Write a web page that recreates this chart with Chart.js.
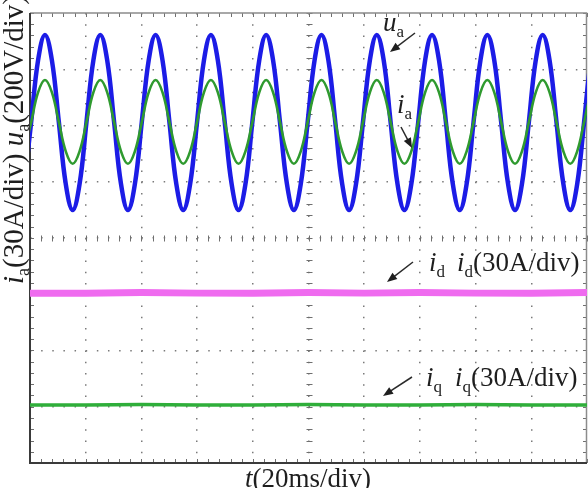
<!DOCTYPE html>
<html>
<head>
<meta charset="utf-8">
<script src="https://cdn.jsdelivr.net/npm/chart.js@4.4.1/dist/chart.umd.min.js"></script>
<style>
  html, body { margin: 0; padding: 0; background: #fff; }
  canvas { display: block; }
</style>
</head>
<body>
<canvas id="scope" width="588" height="488"></canvas>
<script>
// everything is in scope divisions: x = 20 ms/div (0..10), y = div from the centre line (-4..4)
const sampleDiv = [-0.103, 0.021, 0.145, 0.269, 0.393, 0.518, 0.642, 0.766, 0.890, 1.014,
  1.138, 1.262, 1.386, 1.510, 1.634, 1.758, 1.883, 2.007, 2.131, 2.255,
  2.379, 2.503, 2.627, 2.751, 2.875, 2.999, 3.123, 3.248, 3.372, 3.496,
  3.620, 3.744, 3.868, 3.992, 4.116, 4.240, 4.364, 4.488, 4.613, 4.737,
  4.861, 4.985, 5.109, 5.233, 5.357, 5.481, 5.605, 5.729, 5.853, 5.978,
  6.102, 6.226, 6.350, 6.474, 6.598, 6.722, 6.846, 6.970, 7.094, 7.218,
  7.343, 7.467, 7.591, 7.715, 7.839, 7.963, 8.087, 8.211, 8.335, 8.459,
  8.583, 8.708, 8.832, 8.956, 9.080, 9.204, 9.328, 9.452, 9.576, 9.700,
  9.824, 9.948, 10.073, 10.197];

// u_a (200V/div)
const uaDiv = [0.96, 2.06, 3.16, 3.61, 3.16, 2.06, 0.96, 0.50,
  0.96, 2.06, 3.16, 3.61, 3.16, 2.06, 0.96, 0.50,
  0.96, 2.06, 3.16, 3.61, 3.16, 2.06, 0.96, 0.50,
  0.96, 2.06, 3.16, 3.61, 3.16, 2.06, 0.96, 0.50,
  0.96, 2.06, 3.16, 3.61, 3.16, 2.06, 0.96, 0.50,
  0.96, 2.06, 3.16, 3.61, 3.16, 2.06, 0.96, 0.50,
  0.96, 2.06, 3.16, 3.61, 3.16, 2.06, 0.96, 0.50,
  0.96, 2.06, 3.16, 3.61, 3.16, 2.06, 0.96, 0.50,
  0.96, 2.06, 3.16, 3.61, 3.16, 2.06, 0.96, 0.50,
  0.96, 2.06, 3.16, 3.61, 3.16, 2.06, 0.96, 0.50,
  0.96, 2.06, 3.16, 3.61];

// i_a (30A/div)
const iaDiv = [1.54, 2.06, 2.59, 2.81, 2.59, 2.06, 1.54, 1.32,
  1.54, 2.06, 2.59, 2.81, 2.59, 2.06, 1.54, 1.32,
  1.54, 2.06, 2.59, 2.81, 2.59, 2.06, 1.54, 1.32,
  1.54, 2.06, 2.59, 2.81, 2.59, 2.06, 1.54, 1.32,
  1.54, 2.06, 2.59, 2.81, 2.59, 2.06, 1.54, 1.32,
  1.54, 2.06, 2.59, 2.81, 2.59, 2.06, 1.54, 1.32,
  1.54, 2.06, 2.59, 2.81, 2.59, 2.06, 1.54, 1.32,
  1.54, 2.06, 2.59, 2.81, 2.59, 2.06, 1.54, 1.32,
  1.54, 2.06, 2.59, 2.81, 2.59, 2.06, 1.54, 1.32,
  1.54, 2.06, 2.59, 2.81, 2.59, 2.06, 1.54, 1.32,
  1.54, 2.06, 2.59, 2.81];

// i_d, i_q (30A/div)
const dqTime = [0, 1, 2, 3, 4, 5, 6, 7, 8, 9, 10];
const idDiv = [-0.98, -0.98, -0.97, -0.98, -0.98, -0.97, -0.98, -0.97, -0.98, -0.98, -0.97];
const iqDiv = [-2.97, -2.97, -2.96, -2.97, -2.97, -2.96, -2.97, -2.97, -2.96, -2.97, -2.97];

const serif = '"Liberation Serif", "Times New Roman", serif';

function pts(xs, ys) {
  return xs.map((v, i) => ({ x: v, y: ys[i] }));
}

// text with italic letters and subscripts
function richText(ctx, x, y, parts, size) {
  let cx = x;
  parts.forEach(p => {
    const fs = p.sub ? Math.round(size * 0.62) : size;
    ctx.font = (p.it ? 'italic ' : '') + fs + 'px ' + serif;
    ctx.fillText(p.t, cx, p.sub ? y + size * 0.22 : y);
    cx += ctx.measureText(p.t).width;
  });
}

function arrow(ctx, x1, y1, x2, y2) {
  const a = Math.atan2(y2 - y1, x2 - x1);
  const c = Math.cos(a), s = Math.sin(a);
  ctx.beginPath();
  ctx.moveTo(x1, y1);
  ctx.lineTo(x2 - 6 * c, y2 - 6 * s);
  ctx.stroke();
  ctx.beginPath();
  ctx.moveTo(x2, y2);
  ctx.lineTo(x2 - 10 * c + 4 * s, y2 - 10 * s - 4 * c);
  ctx.lineTo(x2 - 10 * c - 4 * s, y2 - 10 * s + 4 * c);
  ctx.closePath();
  ctx.fill();
}

const scopeFrame = {
  id: 'scopeFrame',
  beforeDatasetsDraw(chart) {
    const { ctx, chartArea: a, scales: { x, y } } = chart;
    const cx = Math.round(x.getPixelForValue(5)) + 0.5;
    const cy = Math.round(y.getPixelForValue(0)) + 0.5;
    ctx.save();
    ctx.strokeStyle = '#6f6f6f';
    ctx.lineWidth = 1;
    ctx.beginPath();
    // 5 minor ticks per division, on the frame and on the centre cross
    for (let v = 0; v <= 10.001; v += 0.2) {
      const px = Math.round(x.getPixelForValue(v)) + 0.5;
      ctx.moveTo(px, a.top); ctx.lineTo(px, a.top + 4);
      ctx.moveTo(px, a.bottom); ctx.lineTo(px, a.bottom - 4);
      ctx.moveTo(px, cy - 3); ctx.lineTo(px, cy + 3);
    }
    for (let v = -4; v <= 4.001; v += 0.2) {
      const py = Math.round(y.getPixelForValue(v)) + 0.5;
      ctx.moveTo(a.left, py); ctx.lineTo(a.left + 4, py);
      ctx.moveTo(a.right, py); ctx.lineTo(a.right - 4, py);
      ctx.moveTo(cx - 3, py); ctx.lineTo(cx + 3, py);
    }
    ctx.stroke();
    // frame
    ctx.strokeStyle = '#8c8c8c';
    ctx.lineWidth = 1.5;
    ctx.beginPath();
    ctx.moveTo(a.left, a.top); ctx.lineTo(a.right - 0.5, a.top); ctx.lineTo(a.right - 0.5, a.bottom);
    ctx.stroke();
    ctx.strokeStyle = '#3a3a3a';
    ctx.lineWidth = 2;
    ctx.beginPath();
    ctx.moveTo(a.left, a.top); ctx.lineTo(a.left, a.bottom); ctx.lineTo(a.right, a.bottom);
    ctx.stroke();
    ctx.restore();
  },
  afterDraw(chart) {
    const ctx = chart.ctx;
    ctx.save();
    ctx.fillStyle = '#1e1e1e';
    ctx.strokeStyle = '#2a2a2a';
    ctx.lineWidth = 1.5;
    ctx.textBaseline = 'alphabetic';

    // trace labels
    richText(ctx, 383, 31, [{ t: 'u', it: true }, { t: 'a', sub: true }], 27);
    arrow(ctx, 415, 33, 390, 52);
    richText(ctx, 397, 113, [{ t: 'i', it: true }, { t: 'a', sub: true }], 27);
    arrow(ctx, 401, 127, 412, 148);

    richText(ctx, 429, 271, [{ t: 'i', it: true }, { t: 'd', sub: true }], 27);
    richText(ctx, 457, 271, [{ t: 'i', it: true }, { t: 'd', sub: true }, { t: '(30A/div)' }], 27);
    arrow(ctx, 413, 262, 387, 282);

    richText(ctx, 426, 386, [{ t: 'i', it: true }, { t: 'q', sub: true }], 27);
    richText(ctx, 455, 386, [{ t: 'i', it: true }, { t: 'q', sub: true }, { t: '(30A/div)' }], 27);
    arrow(ctx, 412, 377, 383, 396);

    // x title
    richText(ctx, 245, 487, [{ t: 't', it: true }, { t: '(20ms/div)' }], 27);

    // y title, reading upwards
    ctx.translate(23, 284);
    ctx.rotate(-Math.PI / 2);
    richText(ctx, 0, 0, [{ t: 'i', it: true }, { t: 'a', sub: true }, { t: '(30A/div) ' },
      { t: 'u', it: true }, { t: 'a', sub: true }, { t: '(200V/div)' }], 29);
    ctx.restore();
  }
};

function gridColor(ends) {
  return c => (c.tick && ends.includes(c.tick.value)) ? 'rgba(0,0,0,0)' : '#7a7a7a';
}

const config = {
  type: 'line',
  data: {
    datasets: [
      { label: 'ia', data: pts(sampleDiv, iaDiv), borderColor: '#2f9a2f', borderWidth: 2.6,
        tension: 0.4, pointRadius: 0, order: 0, clip: 0 },
      { label: 'ua', data: pts(sampleDiv, uaDiv), borderColor: '#1c1ce6', borderWidth: 4.5,
        tension: 0.4, pointRadius: 0, order: 1, clip: 0 },
      { label: 'id', data: pts(dqTime, idDiv), borderColor: '#ef6bef', borderWidth: 7,
        tension: 0, pointRadius: 0, order: 2, clip: 0 },
      { label: 'iq', data: pts(dqTime, iqDiv), borderColor: '#2fae3a', borderWidth: 3.5,
        tension: 0, pointRadius: 0, order: 2, clip: 0 }
    ]
  },
  options: {
    responsive: false,
    animation: false,
    layout: { padding: { left: 30, top: 13, right: 1, bottom: 25 } },
    plugins: { legend: { display: false }, tooltip: { enabled: false } },
    scales: {
      x: {
        type: 'linear', min: 0, max: 10,
        ticks: { display: false, stepSize: 1 },
        grid: { color: gridColor([0, 10]), lineWidth: 1.5, drawTicks: false },
        border: { display: false, dash: [1.5, 9.75] }
      },
      y: {
        type: 'linear', min: -4, max: 4,
        ticks: { display: false, stepSize: 1 },
        grid: { color: gridColor([-4, 4]), lineWidth: 1.5, drawTicks: false },
        border: { display: false, dash: [1.5, 9.64] }
      }
    }
  },
  plugins: [scopeFrame]
};

new Chart(document.getElementById('scope'), config);
</script>
</body>
</html>
